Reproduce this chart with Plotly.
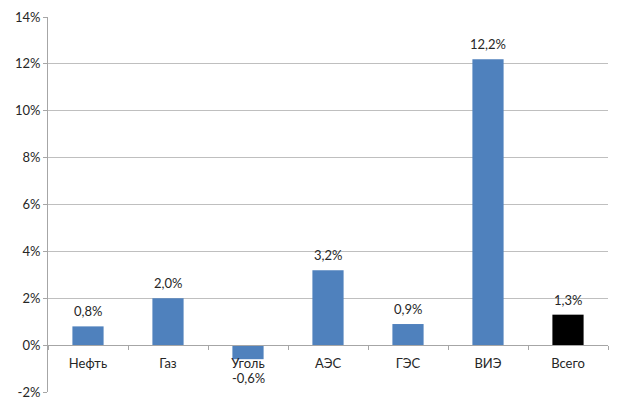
import plotly.graph_objects as go

categories = ["Нефть", "Газ", "Уголь", "АЭС", "ГЭС", "ВИЭ", "Всего"]
values = [0.8, 2.0, -0.6, 3.2, 0.9, 12.2, 1.3]
colors = ["#4F81BD"] * 6 + ["#000000"]
y_ticks = [-2, 0, 2, 4, 6, 8, 10, 12, 14]

font_family = "Lato, 'Open Sans', sans-serif"
txt_color = "#262626"

fig = go.Figure()
fig.add_trace(go.Bar(
    x=categories, y=values, marker=dict(color=colors, line=dict(width=0)),
    hoverinfo="skip",
))

for c, v in zip(categories, values):
    label = f"{v:.1f}".replace(".", ",") + "%"
    if v >= 0:
        fig.add_annotation(x=c, y=v, xref="x", yref="y", text=label, showarrow=False,
                           yanchor="bottom", yshift=5,
                           font=dict(family=font_family, size=13, color=txt_color))
    else:
        fig.add_annotation(x=c, y=v, xref="x", yref="y", text=label, showarrow=False,
                           yanchor="top", yshift=-9,
                           font=dict(family=font_family, size=13, color=txt_color))

fig.update_layout(
    width=620, height=406,
    margin=dict(l=48, r=12, t=17, b=14),
    paper_bgcolor="white", plot_bgcolor="white",
    bargap=0.61,
    showlegend=False,
    font=dict(family=font_family, size=13, color=txt_color),
    xaxis=dict(
        type="category", anchor="free", position=0.125, automargin=False,
        showline=True, linecolor="#A6A6A6", linewidth=1,
        ticks="outside", tickson="boundaries", ticklen=4, tickcolor="#A6A6A6",
        ticklabelstandoff=6,
        showgrid=False, tickfont=dict(family=font_family, size=13, color=txt_color),
        fixedrange=True,
    ),
    yaxis=dict(
        range=[-2, 14], tickvals=y_ticks, ticktext=[f"{t}%" for t in y_ticks],
        automargin=False,
        showgrid=True, gridcolor="#BFBFBF", gridwidth=1,
        showline=True, linecolor="#A6A6A6", linewidth=1,
        ticks="outside", ticklen=4, tickcolor="#A6A6A6",
        zeroline=False,
        tickfont=dict(family=font_family, size=13, color=txt_color),
        fixedrange=True,
    ),
)

fig.write_html("out.html")
